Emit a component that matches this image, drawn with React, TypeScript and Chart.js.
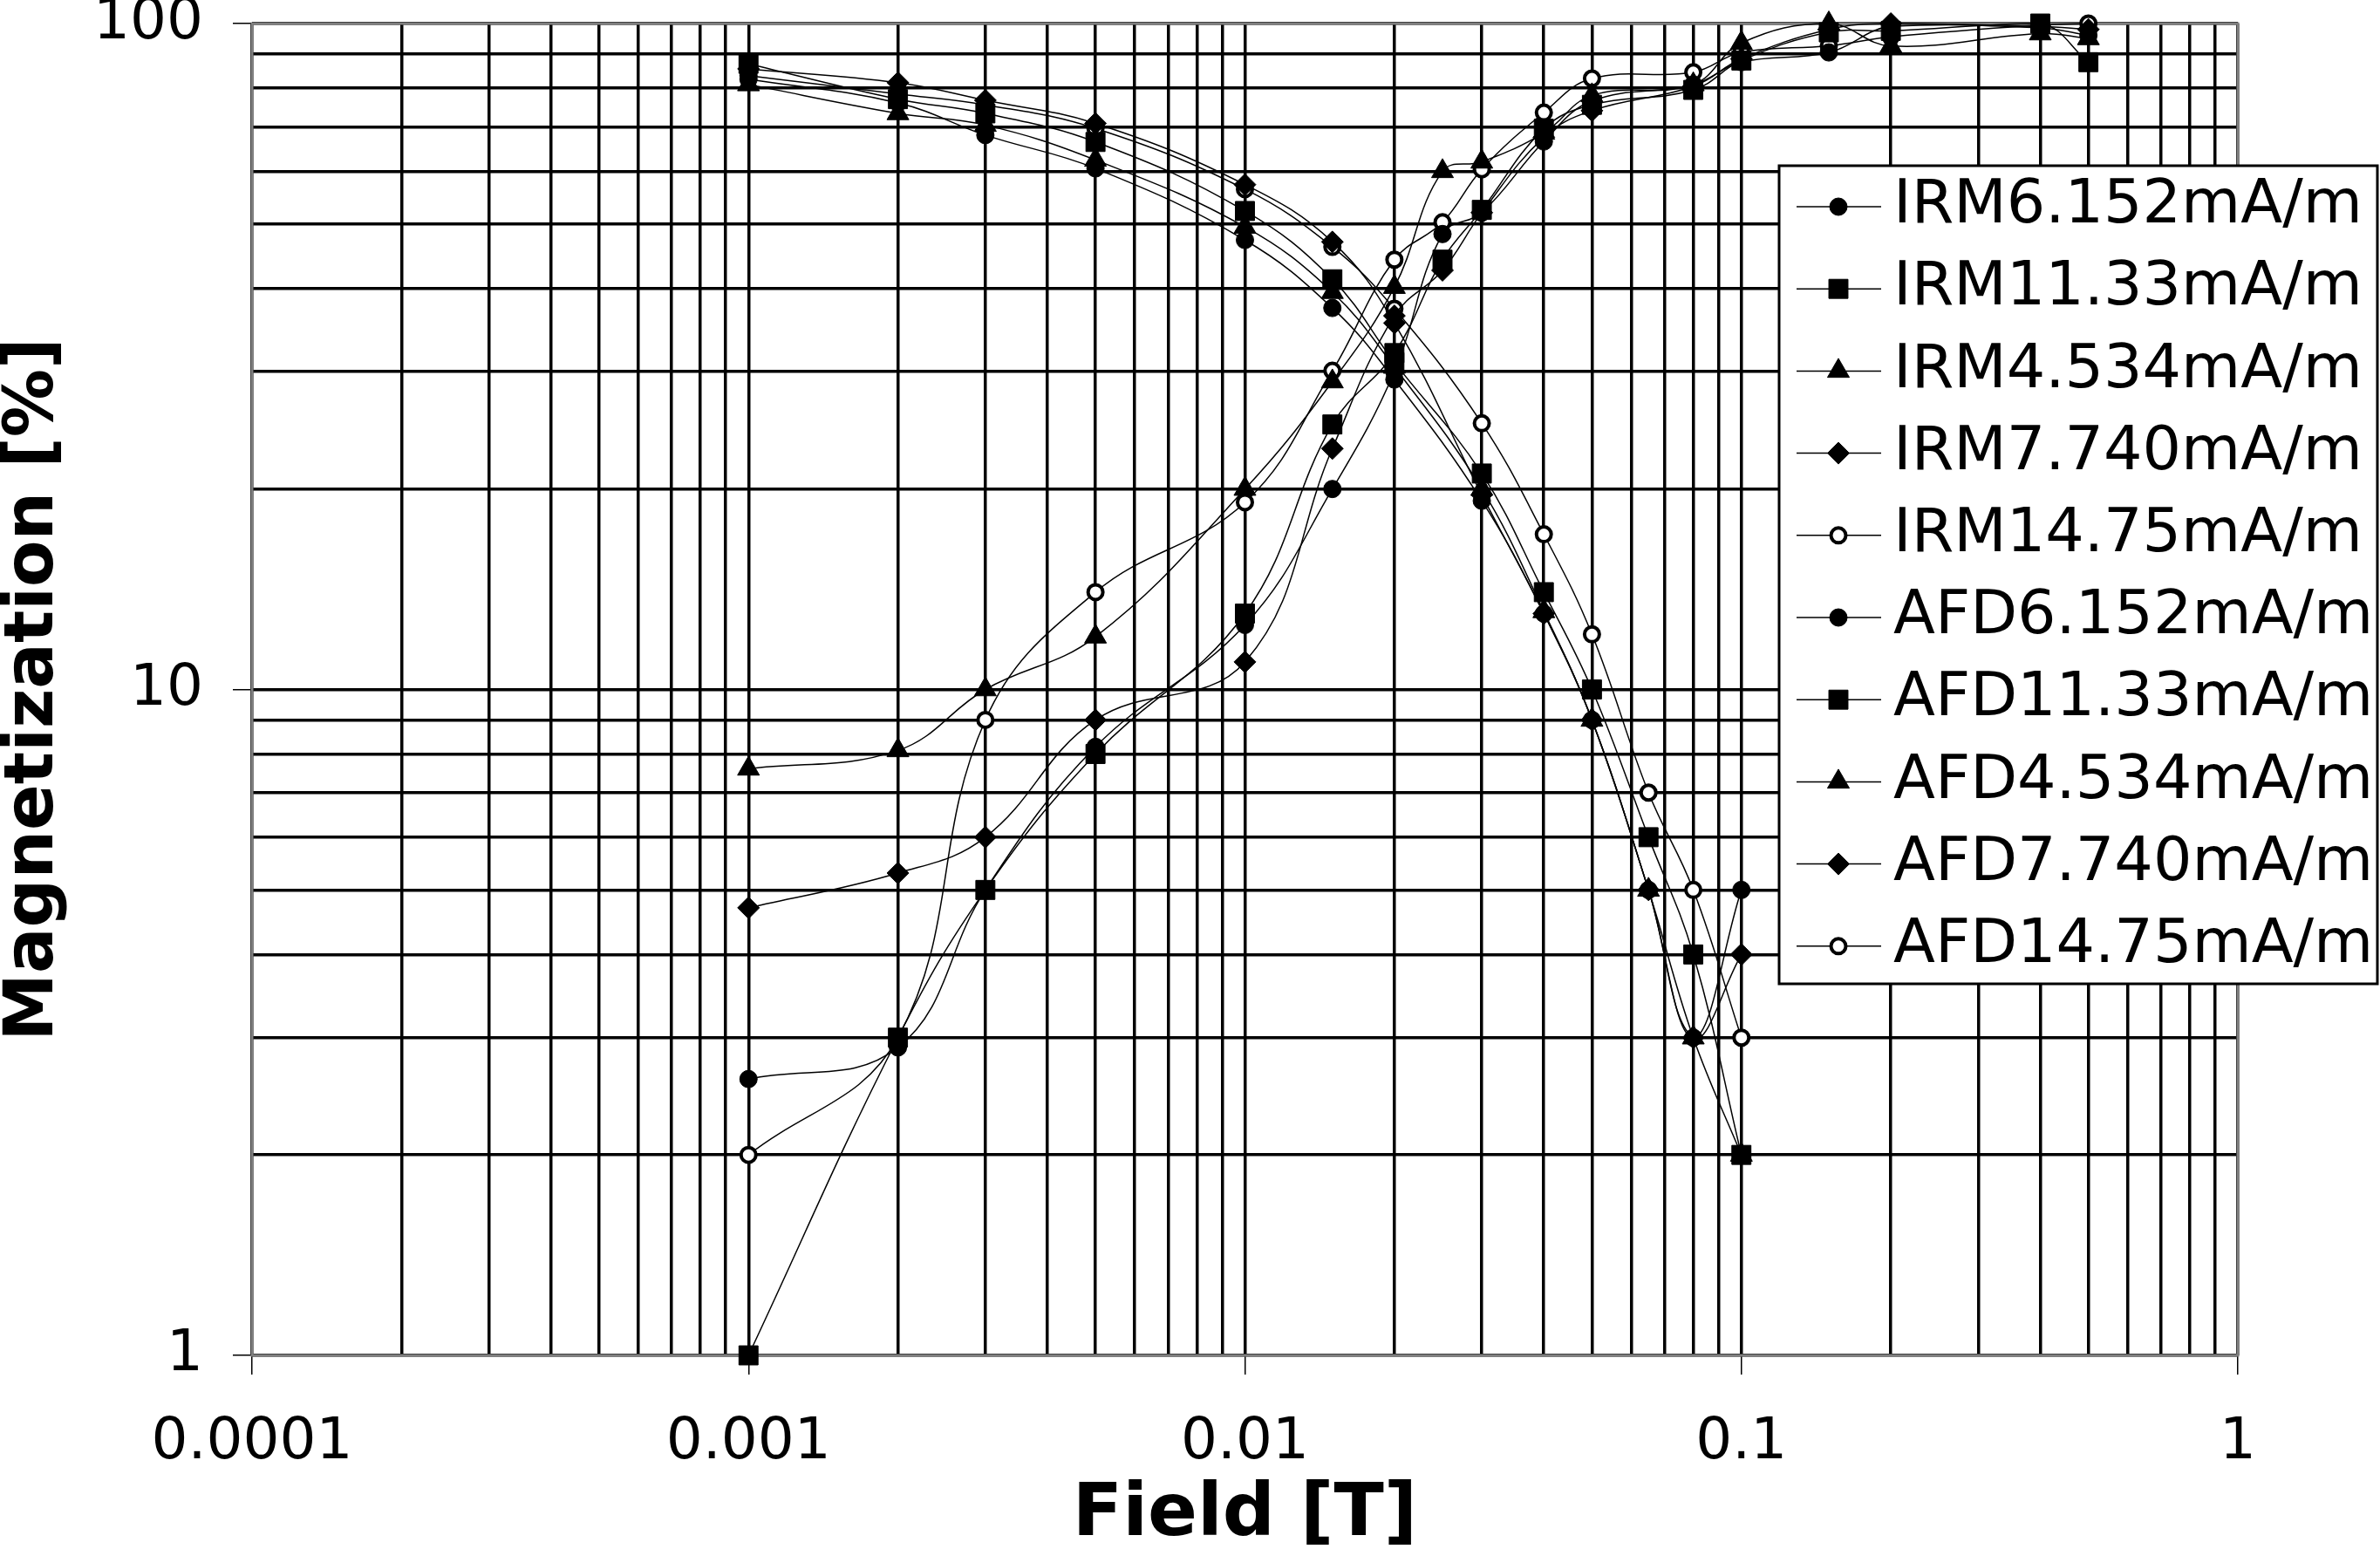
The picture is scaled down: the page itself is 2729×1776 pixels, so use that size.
import { useEffect, useRef } from "react"
import { Chart, registerables, type ChartConfiguration, type Plugin } from "chart.js"
import { drawPoint } from "chart.js/helpers"

Chart.register(...registerables)

// field steps [T]
const irmField = [0.001, 0.002, 0.003, 0.005, 0.01, 0.015, 0.02, 0.025, 0.03, 0.04, 0.05, 0.08, 0.1, 0.15, 0.2, 0.4, 0.5]
const afdField = [0.001, 0.002, 0.003, 0.005, 0.01, 0.015, 0.02, 0.03, 0.04, 0.05, 0.065, 0.08, 0.1]

// IRM acquisition [%]
const irm6152 = [2.6, 2.9, 5, 8.2, 12.5, 20, 30, 48.3, 52, 66.5, 76.5, 81, 87.5, 90.5, 99, 98.5, 96]
const irm1133 = [1, 3, 5, 8, 13, 25, 32, 44.2, 52.5, 69.5, 75.5, 79.5, 88, 97, 97.5, 100, 87.5]
const irm4534 = [7.6, 8.1, 10, 12, 20, 29, 40.2, 60, 62, 68.5, 78, 81, 93.5, 100, 92.5, 96.6, 95]
const irm7740 = [4.7, 5.3, 6, 9, 11, 23, 36.4, 42.6, 52, 67.5, 74, 80.5, 88.5, 98, 100, 99, 98]
const irm1475 = [2, 3, 9, 14, 19.1, 30.1, 44.2, 50.3, 60.4, 73.5, 82.7, 84.5, 90.5, 92.6, 95.5, 99.5, 100]

// AF demagnetisation [%]
const afd6152 = [82.5, 76, 68, 60.6, 47.3, 37.4, 29.2, 19.2, 13, 9, 5, 3, 5]
const afd1133 = [87, 77, 73.3, 66.4, 52.3, 41.3, 31, 21.1, 14, 10, 6, 4, 2]
const afd4534 = [81, 73.3, 70.4, 62.4, 49.5, 39.5, 30.5, 20, 13.1, 9, 5, 3, 2]
const afd7740 = [85.5, 81.5, 76.7, 70.8, 57.3, 47, 35.5, 19.6, 13, 9, 5, 3, 4]
const afd1475 = [83.5, 78.4, 75.5, 69.6, 56.4, 46.2, 37.3, 25.1, 17.1, 12.1, 7, 5, 3]

const xTickLabels = ["0.0001", "0.001", "0.01", "0.1", "1"]
const yTickLabels = ["1", "10", "100"]

const FONT = "'DejaVu Sans', sans-serif"

const markers = {
  circle: { pointStyle: "circle", radius: 10, bg: "#000", bw: 1 },
  square: { pointStyle: "rect", radius: 15.5, bg: "#000", bw: 1 },
  triangle: { pointStyle: "triangle", radius: 14.5, bg: "#000", bw: 1 },
  diamond: { pointStyle: "rectRot", radius: 12.5, bg: "#000", bw: 1 },
  open: { pointStyle: "circle", radius: 8.5, bg: "#fff", bw: 4 },
} as const

const series = [
  { label: "IRM6.152mA/m", field: irmField, values: irm6152, marker: markers.circle },
  { label: "IRM11.33mA/m", field: irmField, values: irm1133, marker: markers.square },
  { label: "IRM4.534mA/m", field: irmField, values: irm4534, marker: markers.triangle },
  { label: "IRM7.740mA/m", field: irmField, values: irm7740, marker: markers.diamond },
  { label: "IRM14.75mA/m", field: irmField, values: irm1475, marker: markers.open },
  { label: "AFD6.152mA/m", field: afdField, values: afd6152, marker: markers.circle },
  { label: "AFD11.33mA/m", field: afdField, values: afd1133, marker: markers.square },
  { label: "AFD4.534mA/m", field: afdField, values: afd4534, marker: markers.triangle },
  { label: "AFD7.740mA/m", field: afdField, values: afd7740, marker: markers.diamond },
  { label: "AFD14.75mA/m", field: afdField, values: afd1475, marker: markers.open },
]

// 1..9 x 10^d grid positions for a log axis
function logGrid(fromExp: number, toExp: number) {
  const out: number[] = []
  for (let d = fromExp; d < toExp; d++) {
    for (let m = 1; m <= 9; m++) out.push(Number((m * Math.pow(10, d)).toPrecision(3)))
  }
  out.push(Math.pow(10, toExp))
  return out
}

const isDecade = (v: number) => {
  const l = Math.log10(v)
  return Math.abs(l - Math.round(l)) < 1e-6
}

// gray frame around the plot area
const plotFrame: Plugin<"line"> = {
  id: "plotFrame",
  beforeDatasetsDraw(chart) {
    const { ctx, chartArea: a } = chart
    ctx.save()
    ctx.strokeStyle = "#808080"
    ctx.lineWidth = 3
    ctx.strokeRect(a.left, a.top, a.right - a.left, a.bottom - a.top)
    ctx.restore()
  },
}

// boxed legend sitting over the right side of the plot
const boxedLegend: Plugin<"line"> = {
  id: "boxedLegend",
  afterDraw(chart) {
    const { ctx } = chart
    const left = 2040
    const top = 190
    const width = 686
    const height = 938
    const rowGap = 94.2
    ctx.save()
    ctx.fillStyle = "#fff"
    ctx.fillRect(left, top, width, height)
    ctx.strokeStyle = "#000"
    ctx.lineWidth = 3
    ctx.strokeRect(left, top, width, height)
    chart.data.datasets.forEach((ds: any, i) => {
      const y = top + 47 + i * rowGap
      ctx.beginPath()
      ctx.lineWidth = 1.5
      ctx.strokeStyle = "#000"
      ctx.moveTo(left + 20, y)
      ctx.lineTo(left + 117, y)
      ctx.stroke()
      ctx.fillStyle = ds.pointBackgroundColor
      ctx.strokeStyle = "#000"
      ctx.lineWidth = ds.pointBorderWidth
      drawPoint(ctx, { pointStyle: ds.pointStyle, radius: ds.pointRadius, borderWidth: ds.pointBorderWidth, rotation: 0 } as any, left + 68, y)
      ctx.fillStyle = "#000"
      ctx.font = `70px ${FONT}`
      ctx.textAlign = "left"
      ctx.textBaseline = "middle"
      ctx.fillText(ds.label, left + 131, y)
    })
    ctx.restore()
  },
}

function MagnetizationChart() {
  const chartRef = useRef<HTMLCanvasElement>(null)
  const chartInstance = useRef<Chart | null>(null)

  useEffect(() => {
    if (!chartRef.current) return
    const ctx = chartRef.current.getContext("2d")
    if (!ctx) return

    if (chartInstance.current) {
      chartInstance.current.destroy()
    }

    const tickColor = (c: any) => (c.tick && isDecade(c.tick.value) ? "#000" : "rgba(0,0,0,0)")

    const config: ChartConfiguration<"line"> = {
      type: "line",
      data: {
        datasets: series.map((s) => ({
          label: s.label,
          data: s.field.map((x, i) => ({ x, y: s.values[i] })),
          borderColor: "#000",
          borderWidth: 1.5,
          tension: 0.4,
          fill: false,
          clip: false as any,
          pointStyle: s.marker.pointStyle as any,
          pointRadius: s.marker.radius,
          pointBackgroundColor: s.marker.bg,
          pointBorderColor: "#000",
          pointBorderWidth: s.marker.bw,
        })),
      },
      options: {
        responsive: true,
        maintainAspectRatio: false,
        animation: false,
        events: [],
        layout: { padding: { top: 27, right: 163, bottom: 0, left: 0 } },
        plugins: {
          legend: { display: false },
          tooltip: { enabled: false },
        },
        scales: {
          x: {
            type: "logarithmic",
            position: "bottom",
            min: 0.0001,
            max: 1,
            afterBuildTicks: (scale: any) => {
              scale.ticks = logGrid(-4, 0).map((value) => ({ value }))
            },
            afterFit: (scale: any) => {
              scale.height = 222
              scale.paddingLeft = 0
              scale.paddingRight = 0
            },
            border: { display: false },
            grid: {
              color: "#000",
              lineWidth: 3.5,
              drawTicks: true,
              tickLength: 22,
              tickWidth: 1.5,
              tickColor,
            },
            ticks: {
              autoSkip: false,
              maxRotation: 0,
              minRotation: 0,
              padding: 39,
              color: "#000",
              font: { family: FONT, size: 66 },
              callback: (v: any) => (isDecade(Number(v)) ? xTickLabels[Math.round(Math.log10(Number(v))) + 4] : ""),
            },
            title: {
              display: true,
              text: "Field [T]",
              color: "#000",
              padding: 0,
              font: { family: FONT, size: 84, weight: "bold", lineHeight: 0.9 },
            },
          },
          y: {
            type: "logarithmic",
            min: 1,
            max: 100,
            afterBuildTicks: (scale: any) => {
              scale.ticks = logGrid(0, 2).map((value) => ({ value }))
            },
            afterFit: (scale: any) => {
              scale.width = 289
              scale.paddingTop = 0
              scale.paddingBottom = 0
            },
            border: { display: false },
            grid: {
              color: "#000",
              lineWidth: 3.5,
              drawTicks: true,
              tickLength: 22,
              tickWidth: 1.5,
              tickColor,
            },
            ticks: {
              autoSkip: false,
              padding: 34,
              color: "#000",
              font: { family: FONT, size: 66 },
              callback: (v: any) => (isDecade(Number(v)) ? yTickLabels[Math.round(Math.log10(Number(v)))] : ""),
            },
            title: {
              display: true,
              text: "Magnetization [%]",
              color: "#000",
              padding: 0,
              font: { family: FONT, size: 78, weight: "bold", lineHeight: 1.03 },
            },
          },
        },
      },
      plugins: [plotFrame, boxedLegend],
    }

    chartInstance.current = new Chart(ctx, config)

    return () => {
      if (chartInstance.current) {
        chartInstance.current.destroy()
        chartInstance.current = null
      }
    }
  }, [])

  return (
    <div style={{ position: "relative", width: 2729, height: 1776, background: "#fff" }}>
      <canvas ref={chartRef} />
    </div>
  )
}

export default function App() {
  useEffect(() => {
    document.body.style.margin = "0"
    document.body.style.overflow = "hidden"
  }, [])
  return <MagnetizationChart />
}
